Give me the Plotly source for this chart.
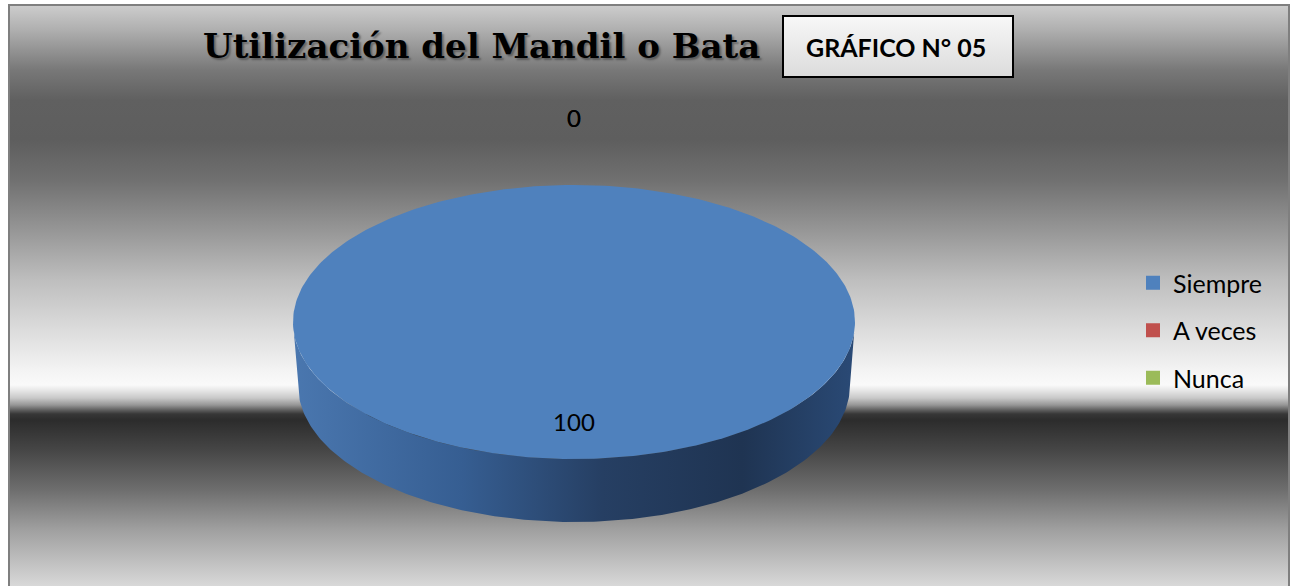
import numpy as np
import plotly.graph_objects as go

# ---- data -------------------------------------------------------------
categories = ["Siempre", "A veces", "Nunca"]
values = [100, 0, 0]
title_text = "Utilización del Mandil o Bata"
badge_text = "GRÁFICO N° 05"

# ---- styling ------------------------------------------------------------
W, H = 1295, 586
top_colors = ["#4F81BD", "#C0504D", "#9BBB59"]
side_scales = [
    [[0, "#4A77AF"], [0.3, "#365E92"], [0.55, "#263F63"], [0.8, "#1F3452"], [1, "#2A4A76"]],
    [[0, "#B24A47"], [0.5, "#7F2F2D"], [1, "#8E3634"]],
    [[0, "#8FAD52"], [0.5, "#5F7A31"], [1, "#6E8B3B"]],
]
CX, CY, RX, RY = 574, 322, 281, 137
DEPTH, RX_BOTTOM = 63, 276

# background gray profile (y in px, gray level)
bg_stops = [(5, 205), (30, 175), (70, 120), (100, 96), (140, 94), (180, 112),
            (230, 150), (280, 190), (330, 220), (370, 243), (385, 250),
            (390, 232), (398, 200), (405, 150), (410, 95), (414, 55), (420, 44),
            (450, 70), (490, 110), (530, 160), (586, 216)]

fig = go.Figure()

# chart-area background gradient
fig.add_trace(go.Scatter(
    x=[10, 1288, 1288, 10, 10], y=[6, 6, H + 5, H + 5, 6], mode="lines",
    line=dict(width=0), fill="toself",
    fillgradient=dict(type="vertical", start=5, stop=586,
                      colorscale=[[(y - 5) / 581, f"rgb({g},{g},{g})"] for y, g in bg_stops]),
    hoverinfo="skip", showlegend=False))


def pt(a_deg, cx, cy, rx, ry):
    a = np.radians(a_deg)
    return cx + rx * np.sin(a), cy - ry * np.cos(a)


total = sum(values)
bounds = np.concatenate([[0], np.cumsum(values)]) / total * 360.0

# visible front walls
for i, v in enumerate(values):
    a0, a1 = bounds[i], bounds[i + 1]
    s, e = max(a0, 90), min(a1, 270)
    if v <= 0 or e <= s:
        continue
    t = np.linspace(s, e, 200)
    xt, yt = pt(t, CX, CY, RX, RY)
    xb, yb = pt(t[::-1], CX, CY + DEPTH, RX_BOTTOM, RY)
    fig.add_trace(go.Scatter(
        x=np.concatenate([xt, xb, xt[:1]]), y=np.concatenate([yt, yb, yt[:1]]),
        mode="lines", line=dict(width=0), fill="toself",
        fillgradient=dict(type="horizontal", colorscale=side_scales[i]),
        hoverinfo="skip", showlegend=False))

# top faces
for i, v in enumerate(values):
    a0, a1 = bounds[i], bounds[i + 1]
    if v <= 0:
        continue
    t = np.linspace(a0, a1, 400)
    xs, ys = pt(t, CX, CY, RX, RY)
    if v < total:
        xs = np.concatenate([[CX], xs, [CX]])
        ys = np.concatenate([[CY], ys, [CY]])
    fig.add_trace(go.Scatter(
        x=xs, y=ys, mode="lines", line=dict(width=0), fill="toself",
        fillcolor=top_colors[i], name=categories[i],
        hoverinfo="name", showlegend=False))

# data labels
lx, ly, lt = [], [], []
for i, v in enumerate(values):
    mid = (bounds[i] + bounds[i + 1]) / 2
    r = 0.75 if v > 0 else 1.47
    x, y = pt(mid, CX, CY, RX * r, RY * r)
    lx.append(x); ly.append(y); lt.append(str(v))
fig.add_trace(go.Scatter(
    x=lx, y=ly, text=lt, mode="text", textposition="middle center",
    textfont=dict(family="Lato, Open Sans, sans-serif", size=24, color="#000000"),
    hoverinfo="skip", showlegend=False))

# legend entries
for i, c in enumerate(categories):
    fig.add_trace(go.Scatter(
        x=[None], y=[None], mode="markers", name=c, legendgroup=c,
        marker=dict(symbol="square", size=14, color=top_colors[i])))

# badge box with soft shadow
fig.add_trace(go.Scatter(
    x=[784, 1012, 1012, 784, 784], y=[17, 17, 76, 76, 17], mode="lines",
    line=dict(width=0), fill="toself",
    fillgradient=dict(type="vertical", start=17, stop=76,
                      colorscale=[[0, "#F7F7F7"], [1, "#DCDCDC"]]),
    hoverinfo="skip", showlegend=False))

shapes = [
    # outer frame
    dict(type="rect", x0=9, x1=1289, y0=5, y1=H + 10, line=dict(color="#7F7F7F", width=2),
         fillcolor="rgba(0,0,0,0)", layer="above"),
]
for k, op in [(7, 0.15), (6, 0.2), (5, 0.3), (4, 0.35)]:
    shapes.append(dict(type="rect", x0=783 + k, x1=1013 + k, y0=16 + k, y1=77 + k,
                       line=dict(width=0), fillcolor=f"rgba(40,40,40,{op})", layer="below"))
shapes.append(dict(type="rect", x0=783, x1=1013, y0=16, y1=77,
                   line=dict(color="#000000", width=2), fillcolor="rgba(0,0,0,0)", layer="above"))

annotations = [
    dict(x=481, y=46, xref="x", yref="y", text=f"<b>{title_text}</b>", showarrow=False,
         font=dict(family="DejaVu Serif, serif", size=34, color="#000000",
                   shadow="2px 2px 2px rgba(0,0,0,0.35)"),
         xanchor="center", yanchor="middle"),
    dict(x=896, y=47, xref="x", yref="y", text=f"<b>{badge_text}</b>", showarrow=False,
         font=dict(family="Lato, Open Sans, sans-serif", size=25, color="#000000"),
         xanchor="center", yanchor="middle"),
]

fig.update_layout(
    width=W, height=H, margin=dict(l=0, r=0, t=0, b=0),
    paper_bgcolor="#FFFFFF", plot_bgcolor="#FFFFFF",
    xaxis=dict(range=[0, W], visible=False, fixedrange=True, domain=[0, 1]),
    yaxis=dict(range=[H, 0], visible=False, fixedrange=True, domain=[0, 1]),
    shapes=shapes, annotations=annotations,
    legend=dict(x=1133 / W, y=1 - 260 / H, xanchor="left", yanchor="top",
                bgcolor="rgba(0,0,0,0)", tracegroupgap=12, traceorder="grouped",
                font=dict(family="Lato, Open Sans, sans-serif", size=25, color="#000000")),
    showlegend=True,
)

fig.write_html("out.html")
